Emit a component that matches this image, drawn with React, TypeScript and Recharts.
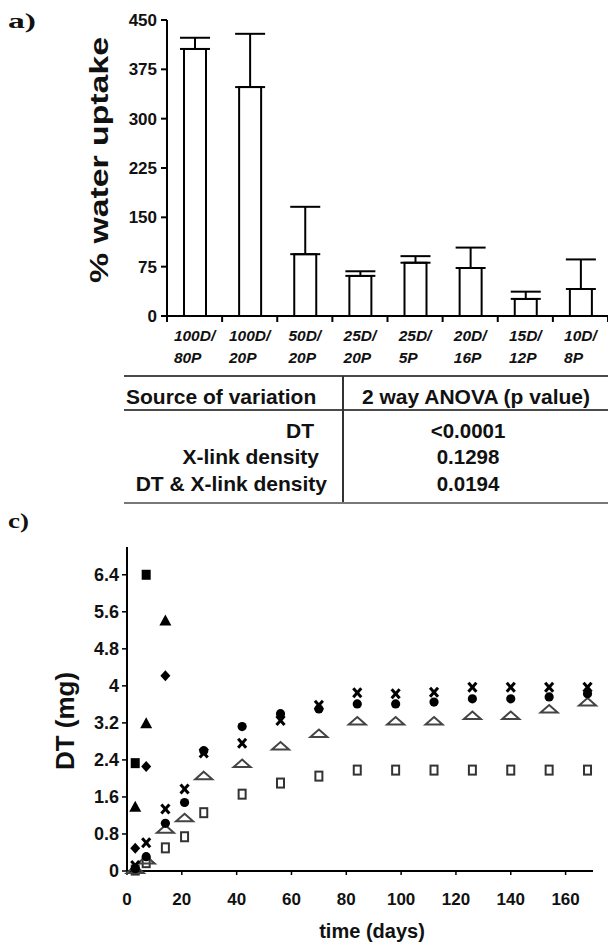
import React from 'react';
import { BarChart, Bar, XAxis, YAxis, ErrorBar, ScatterChart, Scatter, Label } from 'recharts';

const SANS = '"Liberation Sans", Arial, Helvetica, sans-serif';
const SERIF = '"Liberation Serif", "Times New Roman", serif';

// ---------- Panel a: % water uptake ----------
const groups = ['100D/80P', '100D/20P', '50D/20P', '25D/20P', '25D/5P', '20D/16P', '15D/12P', '10D/8P'];
const uptakeMean = [406, 348, 94, 61, 81, 73, 26, 41];
const uptakeSD = [17, 81, 72, 7, 10, 31, 11, 45];
const uptakeTicks = [0, 75, 150, 225, 300, 375, 450];

// ---------- ANOVA table ----------
const anovaHeaders = ['Source of variation', '2 way ANOVA (p value)'];
const anovaSources = ['DT', 'X-link density', 'DT & X-link density'];
const anovaP = ['<0.0001', '0.1298', '0.0194'];

// ---------- Panel c: DT release ----------
const days = [3, 7, 14, 21, 28, 42, 56, 70, 84, 98, 112, 126, 140, 154, 168];
const dtCross = [0.12, 0.61, 1.34, 1.77, 2.55, 2.76, 3.25, 3.58, 3.85, 3.83, 3.86, 3.97, 3.97, 3.97, 3.97];
const dtCircle = [0.05, 0.31, 1.03, 1.48, 2.6, 3.12, 3.4, 3.5, 3.61, 3.61, 3.65, 3.72, 3.72, 3.76, 3.83];
const dtOpenTriangle = [0.03, 0.24, 0.9, 1.15, 2.06, 2.32, 2.7, 2.97, 3.24, 3.24, 3.24, 3.36, 3.36, 3.5, 3.65];
const dtOpenSquare = [0.02, 0.18, 0.5, 0.74, 1.26, 1.66, 1.9, 2.05, 2.18, 2.18, 2.18, 2.18, 2.18, 2.18, 2.18];
const earlyDays = [3, 7, 14];
const dtFilledSquare = [2.33, 6.4];
const dtFilledTriangle = [1.39, 3.19, 5.41];
const dtFilledDiamond = [0.49, 2.26, 4.22];
const dtTicks = [0, 0.8, 1.6, 2.4, 3.2, 4, 4.8, 5.6, 6.4];
const dayTicks = [0, 20, 40, 60, 80, 100, 120, 140, 160];

const barData = groups.map((g, i) => ({ group: g, uptake: uptakeMean[i], errRange: [0, uptakeSD[i]] }));
const toPts = (xs: number[], ys: number[]) => ys.map((v, i) => ({ t: xs[i], v }));

const BAR_LEFT = 167;
const BAR_RIGHT = 608;

const CHAR_W: Record<string, number> = { '/': 0.278, D: 0.722, P: 0.667 };
const textW = (s: string, fs: number) =>
  s.split('').reduce((a, c) => a + (CHAR_W[c] ?? 0.556), 0) * fs;

const GroupTick = (props: any) => {
  const { x, y, payload, index } = props;
  const band = (BAR_RIGHT - BAR_LEFT) / groups.length;
  const label = String(payload.value);
  const cut = label.indexOf('/') + 1;
  const l1 = label.slice(0, cut);
  const l2 = label.slice(cut);
  const fs = 15.5;
  const left = x - textW(l1, fs) / 2;
  const style = { fontFamily: SANS, fontSize: fs, fontWeight: 700, fontStyle: 'italic' as const, fill: '#111' };
  return (
    <g>
      <line x1={x - band / 2} y1={y} x2={x - band / 2} y2={y + 6} stroke="#000" strokeWidth={2} />
      {index === groups.length - 1 && (
        <line x1={x + band / 2} y1={y} x2={x + band / 2} y2={y + 6} stroke="#000" strokeWidth={2} />
      )}
      <text x={left} y={y + 25} {...style}>{l1}</text>
      <text x={left} y={y + 47} {...style}>{l2}</text>
    </g>
  );
};

// marker shapes
const FilledSquare = (p: any) => <rect x={p.cx - 4.5} y={p.cy - 5} width={9} height={10} fill="#000" />;
const FilledTriangle = (p: any) => (
  <polygon points={`${p.cx},${p.cy - 6} ${p.cx + 6},${p.cy + 5} ${p.cx - 6},${p.cy + 5}`} fill="#000" />
);
const FilledDiamond = (p: any) => (
  <polygon points={`${p.cx},${p.cy - 5.5} ${p.cx + 5},${p.cy} ${p.cx},${p.cy + 5.5} ${p.cx - 5},${p.cy}`} fill="#000" />
);
const FilledCircle = (p: any) => <circle cx={p.cx} cy={p.cy} r={4.6} fill="#000" />;
const Cross = (p: any) => (
  <g stroke="#000" strokeWidth={3}>
    <line x1={p.cx - 4} y1={p.cy - 4.5} x2={p.cx + 4} y2={p.cy + 4.5} />
    <line x1={p.cx + 4} y1={p.cy - 4.5} x2={p.cx - 4} y2={p.cy + 4.5} />
  </g>
);
const OpenTriangle = (p: any) => (
  <polygon
    points={`${p.cx},${p.cy - 4} ${p.cx + 8.5},${p.cy + 3.5} ${p.cx - 8.5},${p.cy + 3.5}`}
    fill="none"
    stroke="#444"
    strokeWidth={2}
  />
);
const OpenSquare = (p: any) => (
  <rect x={p.cx - 3.5} y={p.cy - 4.5} width={7} height={9} fill="#fff" stroke="#333" strokeWidth={2} />
);

const tickStyle = { fontFamily: SANS, fontSize: 17, fontWeight: 700, fill: '#111' };
const dtTickStyle = { fontFamily: SANS, fontSize: 18, fontWeight: 700, fill: '#111' };

export default function App() {
  const rowRight = [314, 319, 327];
  const rowBase = [438, 464, 491];
  return (
    <div style={{ position: 'absolute', left: 0, top: 0, width: 608, height: 944, background: '#fff', fontFamily: SANS }}>
      <div style={{ position: 'absolute', left: 0, top: 0 }}>
        <BarChart width={608} height={370} data={barData} margin={{ top: 20, right: 0, bottom: 0, left: 0 }}>
          <XAxis
            dataKey="group"
            interval={0}
            tickSize={0}
            tickMargin={0}
            tickLine={false}
            height={54}
            axisLine={{ stroke: '#000', strokeWidth: 2 }}
            tick={<GroupTick />}
          />
          <YAxis
            width={167}
            domain={[0, 450]}
            ticks={uptakeTicks}
            interval={0}
            tickSize={6}
            tickMargin={4}
            axisLine={{ stroke: '#000', strokeWidth: 2 }}
            tickLine={{ stroke: '#000', strokeWidth: 2 }}
            tick={tickStyle}
          >
            <Label
              content={() => (
                <text
                  x={108}
                  y={160}
                  transform="rotate(-90 108 160)"
                  textAnchor="middle"
                  textLength={246}
                  lengthAdjust="spacingAndGlyphs"
                  style={{ fontFamily: SANS, fontSize: 25, fontWeight: 700, fill: '#111' }}
                >
                  % water uptake
                </text>
              )}
            />
          </YAxis>
          <Bar dataKey="uptake" fill="#fff" stroke="#000" strokeWidth={2} barSize={22} isAnimationActive={false}>
            <ErrorBar dataKey="errRange" direction="y" width={15} stroke="#000" strokeWidth={2} />
          </Bar>
        </BarChart>
      </div>

      <div style={{ position: 'absolute', left: 0, top: 500 }}>
        <ScatterChart width={608} height={444} margin={{ top: 47, right: 15, bottom: 0, left: 0 }}>
          <XAxis
            type="number"
            dataKey="t"
            domain={[0, 170]}
            ticks={dayTicks}
            interval={0}
            height={73}
            tickSize={4}
            tickMargin={18}
            axisLine={{ stroke: '#000', strokeWidth: 2 }}
            tickLine={{ stroke: '#000', strokeWidth: 1.5 }}
            tick={tickStyle}
          >
            <Label
              content={() => (
                <text x={372} y={438} textAnchor="middle" style={{ fontFamily: SANS, fontSize: 20, fontWeight: 700, fill: '#111' }}>
                  time (days)
                </text>
              )}
            />
          </XAxis>
          <YAxis
            type="number"
            dataKey="v"
            width={127}
            domain={[0, 7]}
            ticks={dtTicks}
            interval={0}
            tickSize={5}
            tickMargin={3}
            axisLine={{ stroke: '#000', strokeWidth: 2 }}
            tickLine={{ stroke: '#000', strokeWidth: 1.5 }}
            tick={dtTickStyle}
          >
            <Label
              content={() => (
                <text
                  x={74}
                  y={221}
                  transform="rotate(-90 74 221)"
                  textAnchor="middle"
                  style={{ fontFamily: SANS, fontSize: 26, fontWeight: 700, fill: '#111' }}
                >
                  DT (mg)
                </text>
              )}
            />
          </YAxis>
          <Scatter data={toPts(days, dtOpenSquare)} shape={OpenSquare} isAnimationActive={false} />
          <Scatter data={toPts(days, dtOpenTriangle)} shape={OpenTriangle} isAnimationActive={false} />
          <Scatter data={toPts(days, dtCircle)} shape={FilledCircle} isAnimationActive={false} />
          <Scatter data={toPts(days, dtCross)} shape={Cross} isAnimationActive={false} />
          <Scatter data={toPts(earlyDays, dtFilledSquare)} shape={FilledSquare} isAnimationActive={false} />
          <Scatter data={toPts(earlyDays, dtFilledTriangle)} shape={FilledTriangle} isAnimationActive={false} />
          <Scatter data={toPts(earlyDays, dtFilledDiamond)} shape={FilledDiamond} isAnimationActive={false} />
        </ScatterChart>
      </div>

      <svg width={608} height={944} style={{ position: 'absolute', left: 0, top: 0, pointerEvents: 'none' }}>
        <text x={8} y={28} textLength={28} lengthAdjust="spacingAndGlyphs" style={{ fontFamily: SERIF, fontSize: 22, fontWeight: 700, fill: '#111' }}>
          a)
        </text>
        <text x={8} y={528} textLength={21} lengthAdjust="spacingAndGlyphs" style={{ fontFamily: SERIF, fontSize: 22, fontWeight: 700, fill: '#111' }}>
          c)
        </text>

        <line x1={124} y1={376} x2={608} y2={376} stroke="#4a4a4a" strokeWidth={2} />
        <line x1={124} y1={410} x2={608} y2={410} stroke="#4a4a4a" strokeWidth={2} />
        <line x1={343} y1={376} x2={343} y2={503} stroke="#333" strokeWidth={2} />
        <line x1={124} y1={503} x2={608} y2={503} stroke="#777" strokeWidth={2} />
        <text x={126} y={404} style={{ fontFamily: SANS, fontSize: 21, fontWeight: 700, fill: '#111' }}>
          {anovaHeaders[0]}
        </text>
        <text x={476} y={404} textAnchor="middle" style={{ fontFamily: SANS, fontSize: 21, fontWeight: 700, fill: '#111' }}>
          {anovaHeaders[1]}
        </text>
        {anovaSources.map((s, i) => (
          <text key={s} x={rowRight[i]} y={rowBase[i]} textAnchor="end" style={{ fontFamily: SANS, fontSize: 21, fontWeight: 700, fill: '#111' }}>
            {s}
          </text>
        ))}
        {anovaP.map((p, i) => (
          <text key={p} x={468} y={rowBase[i]} textAnchor="middle" style={{ fontFamily: SANS, fontSize: 20.5, fontWeight: 700, fill: '#111' }}>
            {p}
          </text>
        ))}
      </svg>
    </div>
  );
}
